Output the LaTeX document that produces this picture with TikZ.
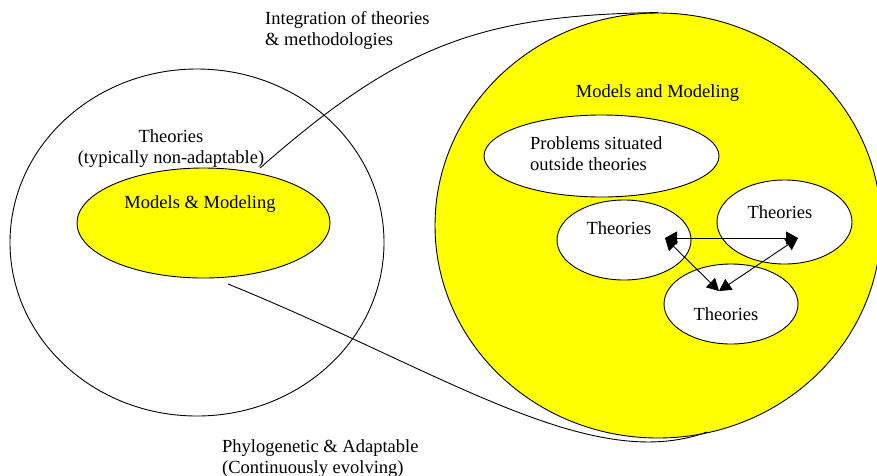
\documentclass[tikz,border=0pt]{standalone}
\usepackage{fontspec}
\setmainfont{Liberation Serif}
\usetikzlibrary{positioning, arrows.meta, shapes.geometric}
\definecolor{modelyellow}{RGB}{255,255,0}

\begin{document}
\begin{tikzpicture}[
    x=1pt, y=-1pt,
    every node/.style={font=\fontsize{18.5}{21}\selectfont},
    outline/.style={ellipse, draw=black, line width=0.9pt, inner sep=0pt},
    plain/.style={outline, fill=white},
    model/.style={outline, fill=modelyellow},
    txt/.style={align=center, inner sep=0pt},
    link/.style={black, line width=0.9pt},
    twoway/.style={black, line width=0.9pt, {Triangle[length=12pt,width=13pt]}-{Triangle[length=12pt,width=13pt]}}
]
\useasboundingbox (0,0) rectangle (877,475);

% left: theories around models
\node[outline, minimum width=374, minimum height=347] (theo) at (197,242.5) {};
\node[model, minimum width=253, minimum height=110] (mm) at (203.5,223) {};
\node[txt, anchor=base] (theotxt) at (171,163) {Theories\\(typically non-adaptable)};
\node[txt, anchor=base] (mmtxt) at (200,208) {Models \& Modeling};

% right: models around theories
\node[model, minimum width=446, minimum height=425] (big) at (658,225.5) {};
\node[txt, anchor=base] (bigtxt) at (657.5,97) {Models and Modeling};
\node[plain, minimum width=235, minimum height=82] (prob) at (601.5,156) {};
\node[txt, align=left, anchor=base west] (probtxt) at (530,170) {Problems situated\\outside theories};
\node[plain, minimum width=134, minimum height=80] (thA) at (624,240) {};
\node[plain, minimum width=135, minimum height=84] (thB) at (784.5,222) {};
\node[plain, minimum width=134, minimum height=80] (thC) at (731,304) {};
\node[txt, anchor=base] (thAtxt) at (619,234) {Theories};
\node[txt, anchor=base] (thBtxt) at (780,218) {Theories};
\node[txt, anchor=base] (thCtxt) at (726,320) {Theories};

% links between theories
\coordinate (vA) at (665,238);
\coordinate (vB) at (798,238);
\coordinate (vC) at (719,291);
\draw[twoway] (vA) -- (vB);
\draw[twoway] (vA) -- (vC);
\draw[twoway] (vC) -- (vB);

% zoom lines
\coordinate (upStart) at (260,168);
\coordinate (loStart) at (228,284);
\coordinate (loEnd) at (707,432);
\draw[link] (upStart) .. controls (400,45) and (480,15) .. (big.north);
\draw[link] (loStart) .. controls (440,370) and (590,475) .. (loEnd);

% captions
\node[txt, align=left, anchor=base west] (integ) at (265,45) {Integration of theories\\\& methodologies};
\node[txt, align=left, anchor=base west] (phylo) at (222,473) {Phylogenetic \& Adaptable\\(Continuously evolving)};

\end{tikzpicture}
\end{document}
